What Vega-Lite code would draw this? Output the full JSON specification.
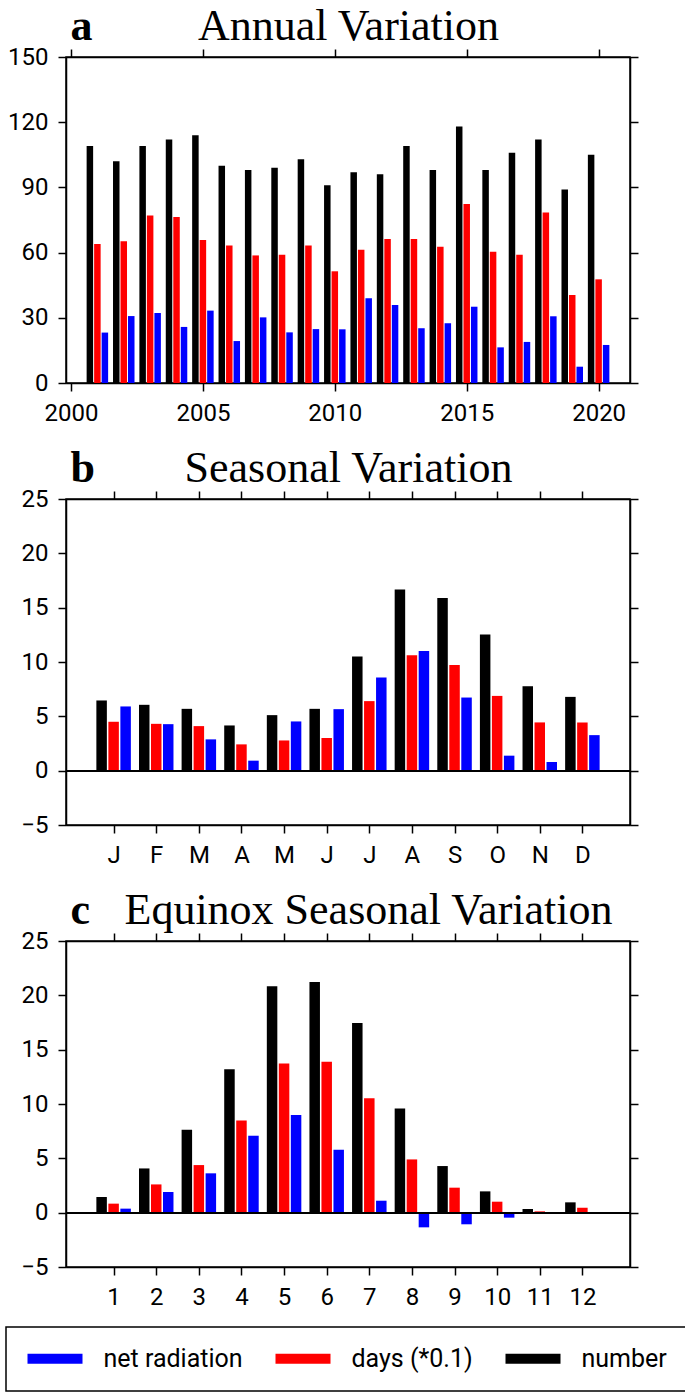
{
  "$schema": "https://vega.github.io/schema/vega-lite/v6.json",
  "padding": {"left": 5, "right": 2, "top": 3, "bottom": 3},
  "background": "white",
  "datasets": {
    "annual": [
      {"year": 2001, "number": 109, "days": 64.0, "net": 23.2},
      {"year": 2002, "number": 102, "days": 65.2, "net": 30.8},
      {"year": 2003, "number": 109, "days": 77.1, "net": 32.2},
      {"year": 2004, "number": 112, "days": 76.4, "net": 25.8},
      {"year": 2005, "number": 114, "days": 65.8, "net": 33.3},
      {"year": 2006, "number": 100, "days": 63.3, "net": 19.3},
      {"year": 2007, "number": 98, "days": 58.7, "net": 30.2},
      {"year": 2008, "number": 99, "days": 59.0, "net": 23.3},
      {"year": 2009, "number": 103, "days": 63.3, "net": 24.8},
      {"year": 2010, "number": 91, "days": 51.4, "net": 24.7},
      {"year": 2011, "number": 97, "days": 61.3, "net": 39.0},
      {"year": 2012, "number": 96, "days": 66.3, "net": 35.9},
      {"year": 2013, "number": 109, "days": 66.3, "net": 25.2},
      {"year": 2014, "number": 98, "days": 62.7, "net": 27.5},
      {"year": 2015, "number": 118, "days": 82.4, "net": 35.1},
      {"year": 2016, "number": 98, "days": 60.4, "net": 16.4},
      {"year": 2017, "number": 106, "days": 59.0, "net": 18.9},
      {"year": 2018, "number": 112, "days": 78.4, "net": 30.7},
      {"year": 2019, "number": 89, "days": 40.5, "net": 7.5},
      {"year": 2020, "number": 105, "days": 47.7, "net": 17.5}
    ],
    "seasonal": [
      {"month": 1, "number": 6.46, "days": 4.50, "net": 5.91},
      {"month": 2, "number": 6.06, "days": 4.31, "net": 4.28},
      {"month": 3, "number": 5.69, "days": 4.10, "net": 2.88},
      {"month": 4, "number": 4.16, "days": 2.42, "net": 0.92},
      {"month": 5, "number": 5.11, "days": 2.78, "net": 4.53},
      {"month": 6, "number": 5.69, "days": 3.00, "net": 5.66},
      {"month": 7, "number": 10.5, "days": 6.40, "net": 8.57},
      {"month": 8, "number": 16.68, "days": 10.62, "net": 11.02},
      {"month": 9, "number": 15.88, "days": 9.73, "net": 6.73},
      {"month": 10, "number": 12.52, "days": 6.88, "net": 1.38},
      {"month": 11, "number": 7.77, "days": 4.44, "net": 0.80},
      {"month": 12, "number": 6.79, "days": 4.44, "net": 3.27}
    ],
    "equinox": [
      {"month": 1, "number": 1.44, "days": 0.83, "net": 0.37},
      {"month": 2, "number": 4.07, "days": 2.60, "net": 1.90},
      {"month": 3, "number": 7.63, "days": 4.38, "net": 3.62},
      {"month": 4, "number": 13.2, "days": 8.49, "net": 7.08},
      {"month": 5, "number": 20.83, "days": 13.73, "net": 8.98},
      {"month": 6, "number": 21.23, "days": 13.88, "net": 5.79},
      {"month": 7, "number": 17.46, "days": 10.54, "net": 1.10},
      {"month": 8, "number": 9.59, "days": 4.90, "net": -1.35},
      {"month": 9, "number": 4.29, "days": 2.30, "net": -1.07},
      {"month": 10, "number": 1.96, "days": 1.01, "net": -0.46},
      {"month": 11, "number": 0.34, "days": 0.12, "net": 0.02},
      {"month": 12, "number": 0.95, "days": 0.46, "net": 0}
    ]
  },
  "config": {
    "view": {"stroke": "black", "strokeWidth": 1.5},
    "axis": {
      "domainColor": "black", "domainWidth": 1.5,
      "tickColor": "black", "tickWidth": 1.5, "tickSize": 8,
      "labelFont": "Roboto", "labelFontSize": 24, "labelColor": "black", "labelPadding": 10,
      "grid": false, "titleColor": "black"
    },
    "legend": {
      "orient": "none", "legendX": -60, "legendY": 1270,
      "direction": "horizontal", "title": null,
      "labelFont": "Roboto", "labelFontSize": 25, "labelColor": "black",
      "symbolType": "M-5.5,-1H5.5V1H-5.5Z", "symbolSize": 100, "symbolStrokeWidth": 0,
      "symbolOffset": 17.5, "labelOffset": 36, "columnPadding": 30,
      "strokeColor": "black", "strokeWidth": 1.5, "padding": 19
    }
  },
  "resolve": {"scale": {"color": "shared"}, "legend": {"color": "shared"}},
  "spacing": 19,
  "vconcat": [
    {
      "width": 564, "height": 326,
      "data": {"name": "annual"},
      "layer": [
        {
          "mark": {"type": "bar", "orient": "vertical", "width": 6.5, "xOffset": -7.5},
          "encoding": {
            "x": {"field": "year", "type": "quantitative", "scale": {"domain": [2000, 2021], "nice": false, "zero": false},
                  "axis": {"orient": "bottom", "values": [2000, 2005, 2010, 2015, 2020], "format": "d", "title": null}},
            "y": {"field": "number", "type": "quantitative", "scale": {"domain": [0, 150], "nice": false},
                  "axis": {"orient": "left", "values": [0, 30, 60, 90, 120, 150], "title": "a",
                           "titleFont": "Liberation Serif", "titleFontSize": 44, "titleFontWeight": "bold",
                           "titleAngle": 0, "titleAlign": "left", "titleBaseline": "alphabetic", "titleX": 4, "titleY": -18}},
            "color": {"datum": "number", "type": "nominal",
                      "scale": {"domain": ["net radiation", "days (*0.1)", "number"], "range": ["#0000ff", "#ff0000", "#000000"]}}
          }
        },
        {
          "mark": {"type": "bar", "orient": "vertical", "width": 6.5, "xOffset": 0},
          "encoding": {
            "x": {"field": "year", "type": "quantitative", "axis": null},
            "y": {"field": "days", "type": "quantitative", "axis": null},
            "color": {"datum": "days (*0.1)", "type": "nominal"}
          }
        },
        {
          "mark": {"type": "bar", "orient": "vertical", "width": 6.5, "xOffset": 7.5},
          "encoding": {
            "x": {"field": "year", "type": "quantitative",
                  "axis": {"orient": "top", "values": [2000, 2005, 2010, 2015, 2020], "labels": false, "title": "Annual Variation",
                           "titleFont": "Liberation Serif", "titleFontSize": 44, "titleFontWeight": "normal",
                           "titleBaseline": "alphabetic", "titleAlign": "center", "titleX": 282, "titleY": -18}},
            "y": {"field": "net", "type": "quantitative",
                  "axis": {"orient": "right", "values": [0, 30, 60, 90, 120, 150], "labels": false, "title": null}},
            "color": {"datum": "net radiation", "type": "nominal"}
          }
        }
      ],
      "resolve": {"axis": {"x": "independent", "y": "independent"}}
    },
    {
      "width": 564, "height": 326,
      "data": {"name": "seasonal"},
      "layer": [
        {
          "mark": {"type": "bar", "orient": "vertical", "width": 10.5, "xOffset": -12},
          "encoding": {
            "x": {"field": "month", "type": "quantitative", "scale": {"domain": [0, 13], "nice": false, "zero": false},
                  "axis": {"orient": "bottom", "values": [1, 2, 3, 4, 5, 6, 7, 8, 9, 10, 11, 12], "title": null,
                           "labelExpr": "['J','F','M','A','M','J','J','A','S','O','N','D'][datum.value - 1]"}},
            "y": {"field": "number", "type": "quantitative", "scale": {"domain": [-5, 25], "nice": false},
                  "axis": {"orient": "left", "values": [-5, 0, 5, 10, 15, 20, 25], "title": "b",
                           "titleFont": "Liberation Serif", "titleFontSize": 44, "titleFontWeight": "bold",
                           "titleAngle": 0, "titleAlign": "left", "titleBaseline": "alphabetic", "titleX": 4, "titleY": -18}},
            "color": {"datum": "number", "type": "nominal"}
          }
        },
        {
          "mark": {"type": "bar", "orient": "vertical", "width": 10.5, "xOffset": 0},
          "encoding": {
            "x": {"field": "month", "type": "quantitative", "axis": null},
            "y": {"field": "days", "type": "quantitative", "axis": null},
            "color": {"datum": "days (*0.1)", "type": "nominal"}
          }
        },
        {
          "mark": {"type": "bar", "orient": "vertical", "width": 10.5, "xOffset": 12},
          "encoding": {
            "x": {"field": "month", "type": "quantitative",
                  "axis": {"orient": "top", "values": [1, 2, 3, 4, 5, 6, 7, 8, 9, 10, 11, 12], "labels": false, "title": "Seasonal Variation",
                           "titleFont": "Liberation Serif", "titleFontSize": 44, "titleFontWeight": "normal",
                           "titleBaseline": "alphabetic", "titleAlign": "center", "titleX": 282, "titleY": -18}},
            "y": {"field": "net", "type": "quantitative",
                  "axis": {"orient": "right", "values": [-5, 0, 5, 10, 15, 20, 25], "labels": false, "title": null}},
            "color": {"datum": "net radiation", "type": "nominal"}
          }
        },
        {
          "mark": {"type": "rule", "color": "black", "strokeWidth": 1.5},
          "encoding": {"y": {"datum": 0, "type": "quantitative", "axis": null}}
        }
      ],
      "resolve": {"axis": {"x": "independent", "y": "independent"}}
    },
    {
      "width": 564, "height": 326,
      "data": {"name": "equinox"},
      "layer": [
        {
          "mark": {"type": "bar", "orient": "vertical", "width": 10.5, "xOffset": -12},
          "encoding": {
            "x": {"field": "month", "type": "quantitative", "scale": {"domain": [0, 13], "nice": false, "zero": false},
                  "axis": {"orient": "bottom", "values": [1, 2, 3, 4, 5, 6, 7, 8, 9, 10, 11, 12], "title": null, "format": "d"}},
            "y": {"field": "number", "type": "quantitative", "scale": {"domain": [-5, 25], "nice": false},
                  "axis": {"orient": "left", "values": [-5, 0, 5, 10, 15, 20, 25], "title": "c",
                           "titleFont": "Liberation Serif", "titleFontSize": 44, "titleFontWeight": "bold",
                           "titleAngle": 0, "titleAlign": "left", "titleBaseline": "alphabetic", "titleX": 4, "titleY": -18}},
            "color": {"datum": "number", "type": "nominal"}
          }
        },
        {
          "mark": {"type": "bar", "orient": "vertical", "width": 10.5, "xOffset": 0},
          "encoding": {
            "x": {"field": "month", "type": "quantitative", "axis": null},
            "y": {"field": "days", "type": "quantitative", "axis": null},
            "color": {"datum": "days (*0.1)", "type": "nominal"}
          }
        },
        {
          "mark": {"type": "bar", "orient": "vertical", "width": 10.5, "xOffset": 12},
          "encoding": {
            "x": {"field": "month", "type": "quantitative",
                  "axis": {"orient": "top", "values": [1, 2, 3, 4, 5, 6, 7, 8, 9, 10, 11, 12], "labels": false, "title": "Equinox Seasonal Variation",
                           "titleFont": "Liberation Serif", "titleFontSize": 44, "titleFontWeight": "normal",
                           "titleBaseline": "alphabetic", "titleAlign": "center", "titleX": 302, "titleY": -18}},
            "y": {"field": "net", "type": "quantitative",
                  "axis": {"orient": "right", "values": [-5, 0, 5, 10, 15, 20, 25], "labels": false, "title": null}},
            "color": {"datum": "net radiation", "type": "nominal"}
          }
        },
        {
          "mark": {"type": "rule", "color": "black", "strokeWidth": 1.5},
          "encoding": {"y": {"datum": 0, "type": "quantitative", "axis": null}}
        }
      ],
      "resolve": {"axis": {"x": "independent", "y": "independent"}}
    }
  ]
}
